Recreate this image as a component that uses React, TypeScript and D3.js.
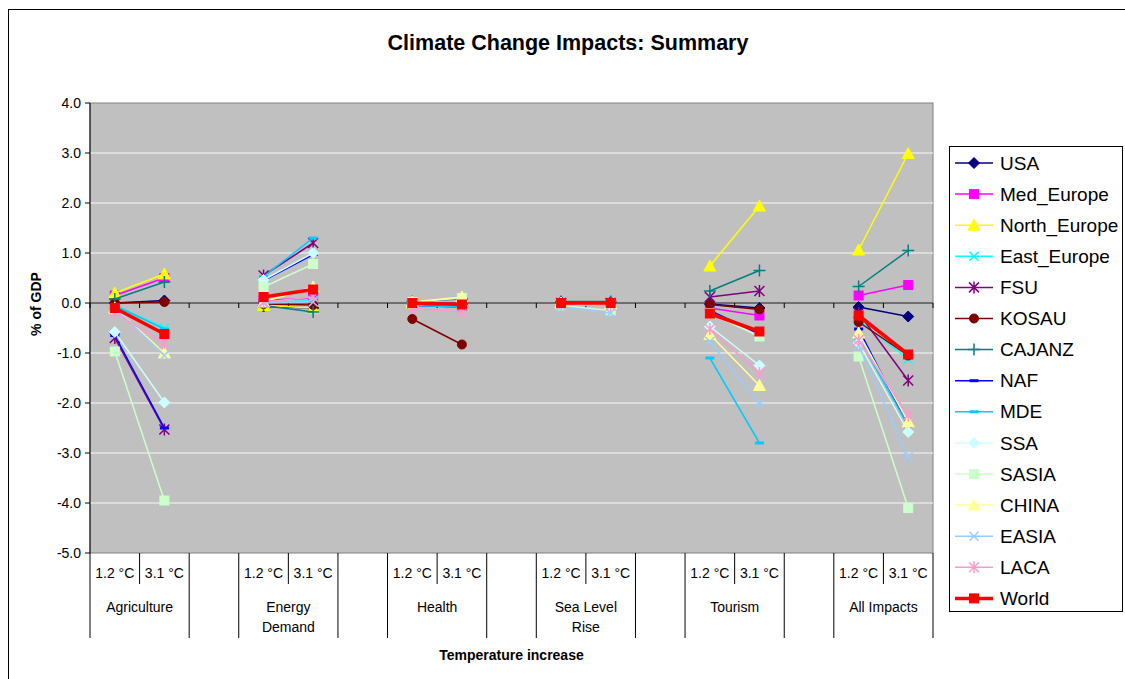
import { scaleBand, scaleLinear, line } from "d3";

const groups = ["Agriculture", "Energy|Demand", "Health", "Sea Level|Rise", "Tourism", "All Impacts"];
const temps = ["1.2 °C", "3.1 °C"];
const yTicks = [4, 3, 2, 1, 0, -1, -2, -3, -4, -5];

// values per series: [agri 1.2, agri 3.1, energy 1.2, energy 3.1, health.., slr.., tourism.., all..]
const usa = [0.0, 0.05, -0.07, -0.1, 0.0, -0.02, 0.02, 0.02, -0.02, -0.1, -0.08, -0.27];
const medEurope = [0.15, 0.5, 0.05, 0.1, 0.0, -0.05, 0.0, 0.0, -0.1, -0.25, 0.15, 0.36];
const northEurope = [0.2, 0.58, -0.05, -0.1, 0.0, 0.0, 0.0, 0.0, 0.74, 1.94, 1.06, 2.99];
const eastEurope = [-0.05, -0.5, 0.0, 0.05, 0.0, -0.05, 0.0, 0.0, -0.15, -0.6, -0.35, -1.12];
const fsu = [-0.7, -2.53, 0.55, 1.2, 0.0, 0.0, 0.0, 0.0, 0.12, 0.24, -0.2, -1.55];
const kosau = [0.0, 0.02, -0.02, -0.04, -0.32, -0.83, 0.0, 0.0, -0.03, -0.13, -0.38, -1.05];
const cajanz = [0.08, 0.42, -0.05, -0.18, 0.03, 0.08, 0.03, 0.03, 0.24, 0.65, 0.33, 1.05];
const naf = [-0.65, -2.5, 0.45, 0.97, -0.05, -0.08, 0.0, -0.02, -0.15, -0.62, -0.52, -2.46];
const mde = [-0.05, -0.52, 0.53, 1.3, -0.05, -0.08, 0.0, -0.01, -1.1, -2.8, -0.7, -2.45];
const ssa = [-0.58, -1.99, 0.46, 1.0, 0.0, -0.05, -0.03, -0.05, -0.47, -1.25, -0.8, -2.58];
const sasia = [-0.97, -3.95, 0.32, 0.78, 0.02, 0.1, -0.05, -0.15, -0.2, -0.67, -1.07, -4.1];
const china = [-0.1, -1.0, 0.02, 0.32, 0.02, 0.12, 0.0, -0.02, -0.63, -1.65, -0.6, -2.38];
const easia = [-0.1, -1.05, 0.0, 0.02, 0.0, -0.05, -0.08, -0.2, -0.77, -2.02, -0.85, -3.08];
const laca = [-0.2, -0.8, 0.02, 0.12, -0.1, -0.18, -0.03, -0.05, -0.52, -1.4, -0.74, -2.25];
const world = [-0.1, -0.62, 0.12, 0.27, 0.0, -0.03, 0.0, 0.0, -0.21, -0.57, -0.25, -1.03];

const series = [
  { name: "USA", values: usa, color: "#000080", marker: "diamond" },
  { name: "Med_Europe", values: medEurope, color: "#FF00FF", marker: "square" },
  { name: "North_Europe", values: northEurope, color: "#FFFF00", marker: "triangle" },
  { name: "East_Europe", values: eastEurope, color: "#00FFFF", marker: "x" },
  { name: "FSU", values: fsu, color: "#800080", marker: "star" },
  { name: "KOSAU", values: kosau, color: "#800000", marker: "circle" },
  { name: "CAJANZ", values: cajanz, color: "#008080", marker: "plus" },
  { name: "NAF", values: naf, color: "#0000FF", marker: "dash" },
  { name: "MDE", values: mde, color: "#00CCFF", marker: "dash" },
  { name: "SSA", values: ssa, color: "#CCFFFF", marker: "diamond" },
  { name: "SASIA", values: sasia, color: "#CCFFCC", marker: "square" },
  { name: "CHINA", values: china, color: "#FFFF99", marker: "triangle" },
  { name: "EASIA", values: easia, color: "#99CCFF", marker: "x" },
  { name: "LACA", values: laca, color: "#FF99CC", marker: "star" },
  { name: "World", values: world, color: "#FF0000", marker: "square" },
];

const FONT = "'Liberation Sans', Arial, sans-serif";

const Marker = ({ type, x, y, color }: { type: string; x: number; y: number; color: string }) => {
  const t = `translate(${x},${y})`;
  switch (type) {
    case "diamond":
      return <path transform={t} d="M0,-5.5L5.5,0L0,5.5L-5.5,0Z" fill={color} stroke={color} />;
    case "square":
      return <rect transform={t} x={-4.5} y={-4.5} width={9} height={9} fill={color} stroke={color} />;
    case "triangle":
      return <path transform={t} d="M0,-6L6,5L-6,5Z" fill={color} stroke={color} />;
    case "x":
      return <path transform={t} d="M-4.5,-4.5L4.5,4.5M4.5,-4.5L-4.5,4.5" stroke={color} strokeWidth={1.5} fill="none" />;
    case "star":
      return <path transform={t} d="M-5,-5L5,5M5,-5L-5,5M0,-6L0,6" stroke={color} strokeWidth={1.5} fill="none" />;
    case "plus":
      return <path transform={t} d="M-6,0L6,0M0,-6L0,6" stroke={color} strokeWidth={1.5} fill="none" />;
    case "circle":
      return <circle transform={t} r={4.5} fill={color} stroke={color} />;
    case "dash":
      return <rect transform={t} x={-4.5} y={-1.5} width={9} height={3} fill={color} />;
    default:
      return null;
  }
};

export default function App() {
  const width = 1125;
  const height = 679;
  const left = 90;
  const right = 933;
  const top = 103;
  const bottom = 553;

  const slots = Array.from({ length: groups.length * 3 - 1 }, (_, i) => i);
  const x = scaleBand<number>().domain(slots).range([left, right]).padding(0);
  const bw = x.bandwidth();
  const y = scaleLinear().domain([-5, 4]).range([bottom, top]);
  const cx = (i: number) => (x(Math.floor(i / 2) * 3 + (i % 2)) as number) + bw / 2;

  return (
    <svg width={width} height={height} style={{ position: "absolute", left: 0, top: 0, background: "#fff" }} fontFamily={FONT}>
      <rect x={8.5} y={9.5} width={1130} height={700} fill="#fff" stroke="#000" />
      <text x={568} y={50} textAnchor="middle" fontSize={21.5} fontWeight="bold">Climate Change Impacts: Summary</text>

      {/* plot area */}
      <rect x={left} y={top} width={right - left} height={bottom - top} fill="#C0C0C0" stroke="#808080" />
      {yTicks.filter((d) => d !== 4 && d !== -5).map((d) => (
        <line key={d} x1={left} x2={right} y1={y(d)} y2={y(d)} stroke="#E6E6E6" strokeWidth={1.5} />
      ))}

      {/* category axis at zero */}
      <line x1={left} x2={right} y1={y(0)} y2={y(0)} stroke="#000" />
      {slots.concat([slots.length]).map((s) => {
        const xx = s < slots.length ? (x(s) as number) : right;
        return <line key={s} x1={xx} x2={xx} y1={y(0)} y2={y(0) + 5} stroke="#000" />;
      })}

      {/* value axis */}
      <line x1={left} x2={left} y1={top} y2={bottom} stroke="#000" />
      {yTicks.map((d) => (
        <g key={d}>
          <line x1={left - 5} x2={left} y1={y(d)} y2={y(d)} stroke="#000" />
          <text x={left - 9} y={y(d)} dy="0.35em" textAnchor="end" fontSize={14}>{d.toFixed(1)}</text>
        </g>
      ))}
      <text transform={`translate(41,304) rotate(-90)`} textAnchor="middle" fontSize={14} fontWeight="bold">% of GDP</text>

      {/* multi-level labels */}
      {slots.concat([slots.length]).map((s) => {
        const xx = s < slots.length ? (x(s) as number) : right;
        const long = s % 3 !== 1;
        return <line key={"v" + s} x1={xx} x2={xx} y1={bottom} y2={long ? 638 : 584} stroke="#000" />;
      })}
      {groups.map((g, gi) => {
        const start = x(gi * 3) as number;
        const parts = g.split("|");
        return (
          <g key={g}>
            {temps.map((t, ti) => (
              <text key={t} x={start + bw * ti + bw / 2} y={573} dy="0.35em" textAnchor="middle" fontSize={14}>{t}</text>
            ))}
            {parts.map((p, pi) => (
              <text key={p} x={start + bw} y={607 + pi * 20} dy="0.35em" textAnchor="middle" fontSize={14}>{p}</text>
            ))}
          </g>
        );
      })}
      <text x={(left + right) / 2} y={655} dy="0.35em" textAnchor="middle" fontSize={14} fontWeight="bold">Temperature increase</text>

      {/* series */}
      {series.map((s) => (
        <g key={s.name}>
          {groups.map((_, gi) => {
            const pts = s.values.slice(gi * 2, gi * 2 + 2);
            const path = line<number>().x((_, i) => cx(gi * 2 + i)).y((d) => y(d))(pts) as string;
            return <path key={gi} d={path} fill="none" stroke={s.color} strokeWidth={s.name === "World" ? 3.5 : 1.5} />;
          })}
          {s.values.map((v, i) => (
            <Marker key={i} type={s.marker} x={cx(i)} y={y(v)} color={s.color} />
          ))}
        </g>
      ))}

      {/* legend */}
      <rect x={949.5} y={146.5} width={173} height={465} fill="#fff" stroke="#000" />
      {series.map((s, i) => {
        const ly = 163 + i * 31.1;
        return (
          <g key={s.name}>
            <line x1={955} x2={993} y1={ly} y2={ly} stroke={s.color} strokeWidth={s.name === "World" ? 3.5 : 1.5} />
            <Marker type={s.marker} x={974} y={ly} color={s.color} />
            <text x={1000} y={ly} dy="0.35em" fontSize={19}>{s.name}</text>
          </g>
        );
      })}
    </svg>
  );
}
